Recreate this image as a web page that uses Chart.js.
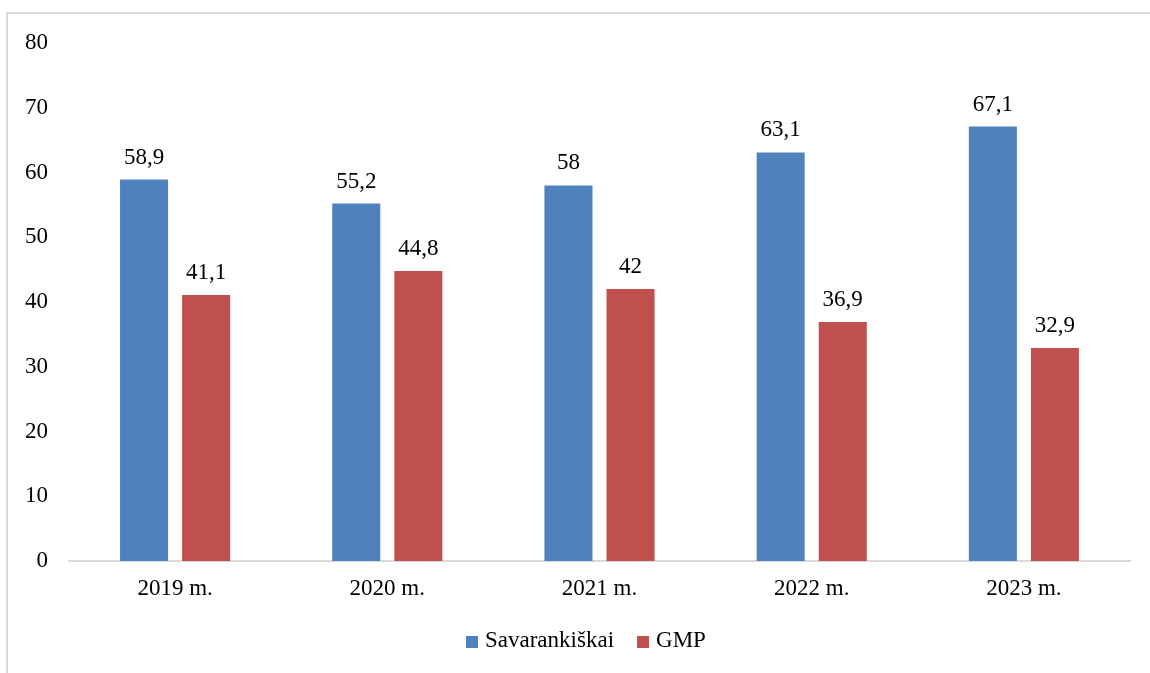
<!DOCTYPE html>
<html>
<head>
<meta charset="utf-8">
<script src="https://cdn.jsdelivr.net/npm/chart.js@4.4.1/dist/chart.umd.min.js"></script>
<style>
  html, body { margin: 0; padding: 0; background: #ffffff; }
  #wrap { position: relative; width: 1150px; height: 673px; overflow: hidden; }
  #frame { position: absolute; left: 6px; top: 12px; width: 1200px; height: 700px;
           border-top: 2px solid #d9d9d9; border-left: 2px solid #d9d9d9; }
  canvas { position: absolute; left: 0; top: 0; }
</style>
</head>
<body>
<div id="wrap">
  <div id="frame"></div>
  <canvas id="c" width="1150" height="673"></canvas>
</div>
<script>
const categories = ['2019 m.', '2020 m.', '2021 m.', '2022 m.', '2023 m.'];
const savarankiskai = [58.9, 55.2, 58, 63.1, 67.1];
const gmp = [41.1, 44.8, 42, 36.9, 32.9];
const seriesNames = ['Savarankiškai', 'GMP'];
const yTicks = [0, 10, 20, 30, 40, 50, 60, 70, 80];

const FONT = "'Liberation Serif', 'Times New Roman', serif";
const FS = 23;

const fmt = v => String(v).replace('.', ',');

const dataLabels = {
  id: 'dataLabels',
  afterDatasetsDraw(chart) {
    const ctx = chart.ctx;
    ctx.save();
    ctx.font = FS + 'px ' + FONT;
    ctx.fillStyle = '#000000';
    ctx.textAlign = 'center';
    ctx.textBaseline = 'alphabetic';
    chart.data.datasets.forEach((ds, di) => {
      const meta = chart.getDatasetMeta(di);
      meta.data.forEach((el, i) => {
        ctx.fillText(fmt(ds.data[i]), el.x, el.y - 16);
      });
    });
    ctx.restore();
  }
};

const bottomLegend = {
  id: 'bottomLegend',
  afterDraw(chart) {
    const ctx = chart.ctx;
    ctx.save();
    ctx.font = FS + 'px ' + FONT;
    ctx.textAlign = 'left';
    ctx.textBaseline = 'alphabetic';
    let x = 466;
    const baseY = 647;
    chart.data.datasets.forEach((ds, di) => {
      ctx.fillStyle = ds.backgroundColor;
      ctx.fillRect(x, 636, 12, 12);
      x += 12 + 7;
      ctx.fillStyle = '#000000';
      ctx.fillText(ds.label, x, baseY);
      x += ctx.measureText(ds.label).width + 23;
    });
    ctx.restore();
  }
};

new Chart(document.getElementById('c'), {
  type: 'bar',
  data: {
    labels: categories,
    datasets: [
      { label: seriesNames[0], data: savarankiskai, backgroundColor: '#4f81bd',
        categoryPercentage: 0.585, barPercentage: 0.774 },
      { label: seriesNames[1], data: gmp, backgroundColor: '#c0504d',
        categoryPercentage: 0.585, barPercentage: 0.774 }
    ]
  },
  options: {
    responsive: false,
    animation: false,
    layout: { padding: { left: 0, right: 20, top: 43, bottom: 67 } },
    plugins: {
      legend: { display: false },
      tooltip: { enabled: false }
    },
    scales: {
      x: {
        grid: { display: false, drawTicks: false },
        border: { display: true, color: '#d9d9d9', width: 2 },
        ticks: { font: { family: FONT, size: FS }, color: '#000000', padding: 14 },
        afterFit(scale) { scale.height = 45; }
      },
      y: {
        min: 0, max: 80,
        afterBuildTicks(scale) { scale.ticks = yTicks.map(v => ({ value: v })); },
        grid: { display: false, drawTicks: false },
        border: { display: false },
        ticks: { font: { family: FONT, size: FS }, color: '#000000', padding: 21 },
        afterFit(scale) { scale.width = 69; }
      }
    }
  },
  plugins: [dataLabels, bottomLegend]
});
</script>
</body>
</html>
